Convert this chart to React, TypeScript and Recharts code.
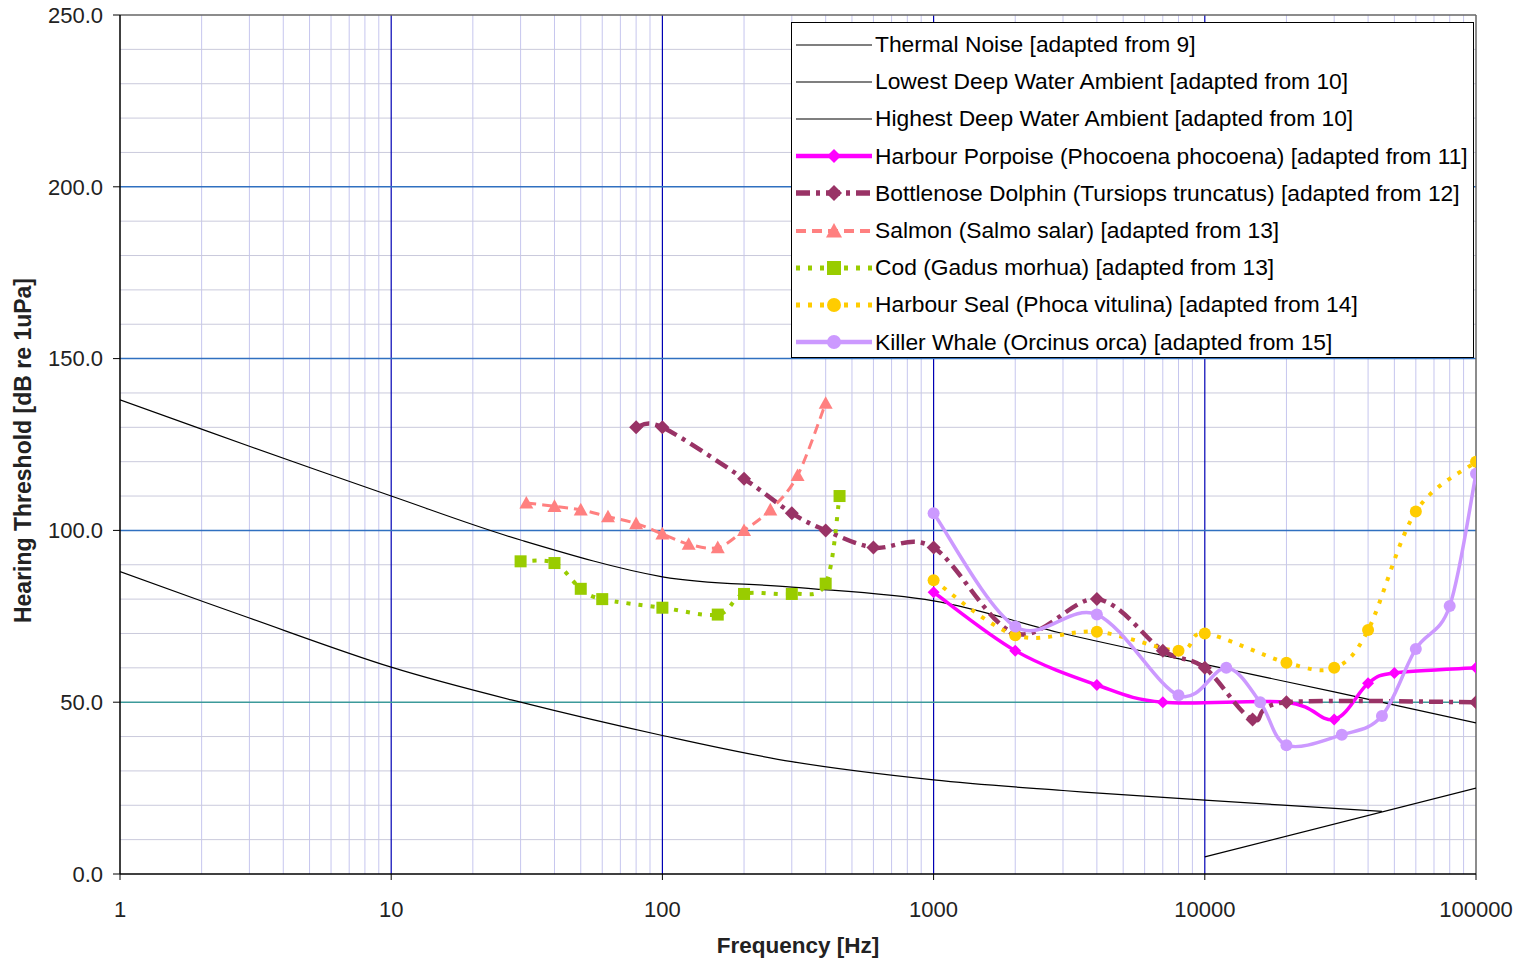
import React from 'react';
import { LineChart, Line, XAxis, YAxis, ReferenceLine } from 'recharts';

// Background noise curves (dB re 1uPa)
const thermalHz = [10000, 100000];
const thermalDb = [5, 25];

const lowestAmbientHz = [1, 3, 10, 30, 100, 300, 1000, 3000, 10000, 45000];
const lowestAmbientDb = [88, 74.5, 60.2, 50, 40.3, 32.7, 27.4, 24.3, 21.5, 18.2];

const highestAmbientHz = [1, 3, 10, 30, 100, 300, 1000, 3000, 10000, 30000, 100000];
const highestAmbientDb = [138, 124.5, 110, 97.2, 86.5, 83.5, 79.5, 70, 61, 53, 44];

// Audiograms
const porpoiseHz = [1000, 2000, 4000, 7000, 20000, 30000, 40000, 50000, 100000];
const porpoiseDb = [82, 65, 55, 50, 50, 45, 55.5, 58.5, 60];

const dolphinHz = [80, 100, 200, 300, 400, 600, 1000, 2000, 4000, 7000, 10000, 15000, 20000, 100000];
const dolphinDb = [130, 130, 115, 105, 100, 95, 95, 70, 80, 65, 60, 45, 50, 50];

const salmonHz = [31.5, 40, 50, 63, 80, 100, 125, 160, 200, 250, 315, 400];
const salmonDb = [108, 107, 106, 104, 102, 99, 96, 95, 100, 106, 116, 137];

const codHz = [30, 40, 50, 60, 100, 160, 200, 300, 400, 450];
const codDb = [91, 90.5, 83, 80, 77.5, 75.5, 81.5, 81.5, 84.5, 110];

const sealHz = [1000, 2000, 4000, 8000, 10000, 20000, 30000, 40000, 60000, 100000];
const sealDb = [85.5, 69.5, 70.5, 65, 70, 61.5, 60, 71, 105.5, 120];

const orcaHz = [1000, 2000, 4000, 8000, 12000, 16000, 20000, 32000, 45000, 60000, 80000, 100000];
const orcaDb = [105, 72, 75.5, 52, 60, 50, 37.5, 40.5, 46, 65.5, 78, 116.5];

// Axis ticks and grid
const decadeTicks = [1, 10, 100, 1000, 10000, 100000];
const minorHz = [1, 10, 100, 1000, 10000].flatMap((d) => [2, 3, 4, 5, 6, 7, 8, 9].map((m) => d * m));
const dbTicks = [0, 50, 100, 150, 200, 250];
const dbMinor = [10, 20, 30, 40, 60, 70, 80, 90, 110, 120, 130, 140, 160, 170, 180, 190, 210, 220, 230, 240];

const FONT = '"Liberation Sans", Arial, sans-serif';

const toPoints = (hz: number[], db: number[]) => hz.map((f, i) => ({ f, db: db[i] }));

// Smoothed line like a spreadsheet "smoothed line" (Catmull-Rom through the points)
const smoothCurve = (context: any) => {
  let pts: [number, number][] = [];
  return {
    areaStart() {},
    areaEnd() {},
    lineStart() {
      pts = [];
    },
    lineEnd() {
      const n = pts.length;
      if (!n) return;
      context.moveTo(pts[0][0], pts[0][1]);
      if (n === 2) {
        context.lineTo(pts[1][0], pts[1][1]);
        return;
      }
      for (let i = 0; i < n - 1; i++) {
        const p0 = pts[i - 1] || pts[i];
        const p1 = pts[i];
        const p2 = pts[i + 1];
        const p3 = pts[i + 2] || p2;
        context.bezierCurveTo(
          p1[0] + (p2[0] - p0[0]) / 6,
          p1[1] + (p2[1] - p0[1]) / 6,
          p2[0] - (p3[0] - p1[0]) / 6,
          p2[1] - (p3[1] - p1[1]) / 6,
          p2[0],
          p2[1]
        );
      }
    },
    point(x: number, y: number) {
      pts.push([+x, +y]);
    },
  };
};

type MarkerKind = 'diamond' | 'triangle' | 'square' | 'circle' | 'none';

const Marker = ({ kind, cx, cy, size, fill }: { kind: MarkerKind; cx: number; cy: number; size: number; fill: string }) => {
  if (kind === 'diamond') {
    return <path d={`M${cx},${cy - size}L${cx + size},${cy}L${cx},${cy + size}L${cx - size},${cy}Z`} fill={fill} />;
  }
  if (kind === 'triangle') {
    return <path d={`M${cx},${cy - size}L${cx + size},${cy + size * 0.8}L${cx - size},${cy + size * 0.8}Z`} fill={fill} />;
  }
  if (kind === 'square') {
    return <rect x={cx - size} y={cy - size} width={size * 2} height={size * 2} fill={fill} />;
  }
  if (kind === 'circle') {
    return <circle cx={cx} cy={cy} r={size} fill={fill} />;
  }
  return null;
};

interface SeriesDef {
  name: string;
  data: { f: number; db: number }[];
  color: string;
  width: number;
  dash?: string;
  marker: MarkerKind;
  size: number;
}

const series: SeriesDef[] = [
  { name: 'Thermal Noise [adapted from 9]', data: toPoints(thermalHz, thermalDb), color: '#000000', width: 1.2, marker: 'none', size: 0 },
  { name: 'Lowest Deep Water Ambient [adapted from 10]', data: toPoints(lowestAmbientHz, lowestAmbientDb), color: '#000000', width: 1.2, marker: 'none', size: 0 },
  { name: 'Highest Deep Water Ambient [adapted from 10]', data: toPoints(highestAmbientHz, highestAmbientDb), color: '#000000', width: 1.2, marker: 'none', size: 0 },
  { name: 'Harbour Porpoise (Phocoena phocoena) [adapted from 11]', data: toPoints(porpoiseHz, porpoiseDb), color: '#FF00FF', width: 3.5, marker: 'diamond', size: 6 },
  { name: 'Bottlenose Dolphin (Tursiops truncatus) [adapted from 12]', data: toPoints(dolphinHz, dolphinDb), color: '#993366', width: 4.5, dash: '14 6 4 6', marker: 'diamond', size: 7 },
  { name: 'Salmon (Salmo salar) [adapted from 13]', data: toPoints(salmonHz, salmonDb), color: '#FF8080', width: 3, dash: '10 6', marker: 'triangle', size: 7 },
  { name: 'Cod (Gadus morhua) [adapted from 13]', data: toPoints(codHz, codDb), color: '#99CC00', width: 4, dash: '4 8', marker: 'square', size: 6 },
  { name: 'Harbour Seal (Phoca vitulina) [adapted from 14]', data: toPoints(sealHz, sealDb), color: '#FFCC00', width: 4, dash: '4 8', marker: 'circle', size: 6 },
  { name: 'Killer Whale (Orcinus orca) [adapted from 15]', data: toPoints(orcaHz, orcaDb), color: '#CC99FF', width: 3.5, marker: 'circle', size: 6 },
];

const LegendBox = () => (
  <div
    style={{
      position: 'absolute',
      left: 791,
      top: 22,
      width: 683,
      height: 336,
      boxSizing: 'border-box',
      border: '1px solid #000',
      background: '#fff',
      paddingTop: 3,
      fontFamily: FONT,
      fontSize: 22.8,
      color: '#000',
    }}
  >
    {series.map((s) => (
      <div key={s.name} style={{ height: 37.2, display: 'flex', alignItems: 'center', whiteSpace: 'nowrap' }}>
        <svg width={80} height={20} style={{ marginLeft: 2, marginRight: 1, flex: 'none' }}>
          <line x1={2} y1={10} x2={78} y2={10} stroke={s.color} strokeWidth={s.marker === 'none' ? 1.2 : s.width + 1} strokeDasharray={s.dash} />
          <Marker kind={s.marker} cx={40} cy={10} size={s.size + 1} fill={s.color} />
        </svg>
        <span>{s.name}</span>
      </div>
    ))}
  </div>
);

export default function App() {
  return (
    <div style={{ position: 'absolute', left: 0, top: 0, width: 1524, height: 961, background: '#fff' }}>
      <LineChart width={1516} height={961} margin={{ top: 15, right: 40, bottom: 0, left: 0 }}>
        <XAxis
          dataKey="f"
          type="number"
          scale="log"
          domain={[1, 100000]}
          allowDataOverflow
          ticks={decadeTicks}
          tickFormatter={(v: number) => String(v)}
          tickSize={6}
          tickMargin={21}
          height={87}
          axisLine={{ stroke: '#000', strokeWidth: 1.5 }}
          tickLine={{ stroke: '#000' }}
          tick={{ fill: '#222', fontSize: 22, fontFamily: FONT }}
          label={{
            content: ({ viewBox }: any) => (
              <text
                x={viewBox.x + viewBox.width / 2}
                y={viewBox.y + 79}
                textAnchor="middle"
                fontFamily={FONT}
                fontSize={22.5}
                fontWeight="bold"
                fill="#222"
              >
                Frequency [Hz]
              </text>
            ),
          }}
        />
        <YAxis
          dataKey="db"
          type="number"
          domain={[0, 250]}
          ticks={dbTicks}
          tickFormatter={(v: number) => v.toFixed(1)}
          width={120}
          tickSize={7}
          tickMargin={10}
          axisLine={{ stroke: '#000', strokeWidth: 1.5 }}
          tickLine={{ stroke: '#000' }}
          tick={{ fill: '#222', fontSize: 22, fontFamily: FONT }}
          label={{
            content: ({ viewBox }: any) => {
              const x = viewBox.x + 23;
              const y = viewBox.y + viewBox.height / 2 + 6;
              return (
                <text
                  x={x}
                  y={y}
                  transform={`rotate(-90 ${x} ${y})`}
                  textAnchor="middle"
                  dominantBaseline="central"
                  fontFamily={FONT}
                  fontSize={23}
                  fontWeight="bold"
                  fill="#222"
                >
                  Hearing Threshold [dB re 1uPa]
                </text>
              );
            },
          }}
        />

        {minorHz.map((v) => (
          <ReferenceLine key={`vx${v}`} x={v} stroke="#C6C6EE" strokeWidth={1} zIndex={-10} />
        ))}
        {dbMinor.map((v) => (
          <ReferenceLine key={`hy${v}`} y={v} stroke="#CACADC" strokeWidth={1} zIndex={-10} />
        ))}
        {decadeTicks.slice(1, 5).map((v) => (
          <ReferenceLine key={`mx${v}`} x={v} stroke="#0000B4" strokeWidth={1.2} zIndex={-5} />
        ))}
        <ReferenceLine y={50} stroke="#3C9A9A" strokeWidth={1.5} zIndex={-5} />
        {[100, 150, 200].map((v) => (
          <ReferenceLine key={`my${v}`} y={v} stroke="#3070C0" strokeWidth={1.5} zIndex={-5} />
        ))}
        <ReferenceLine y={250} stroke="#666" strokeWidth={1.5} zIndex={-5} />
        <ReferenceLine x={100000} stroke="#666" strokeWidth={1.5} zIndex={-5} />

        {series.map((s) => (
          <Line
            key={s.name}
            data={s.data}
            dataKey="db"
            name={s.name}
            type={smoothCurve as any}
            stroke={s.color}
            strokeWidth={s.width}
            strokeDasharray={s.dash}
            isAnimationActive={false}
            activeDot={false}
            dot={
              s.marker === 'none'
                ? false
                : (p: any) => <Marker key={`${s.name}-${p.index}`} kind={s.marker} cx={p.cx} cy={p.cy} size={s.size} fill={s.color} />
            }
          />
        ))}
      </LineChart>
      <LegendBox />
    </div>
  );
}
